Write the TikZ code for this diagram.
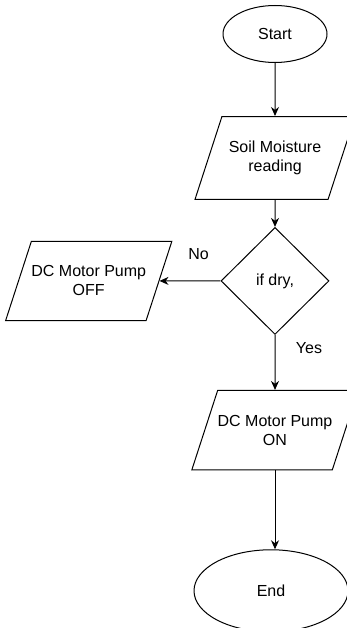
\documentclass[tikz,border=0pt]{standalone}
\usepackage{fontspec}
\setmainfont{Liberation Sans}
\usepackage{tikz}
\usetikzlibrary{shapes.geometric,arrows.meta,positioning}

\begin{document}
\begin{tikzpicture}[x=1pt, y=1pt, >={Stealth[length=9pt,width=8pt]}, line width=1pt,
  every node/.style={align=center, font=\fontsize{16}{19}\selectfont},
  term/.style={draw, ellipse, inner sep=0pt},
  iobox/.style={draw, trapezium, trapezium left angle=72, trapezium right angle=108, trapezium stretches body=true, minimum width=160pt, inner xsep=0pt, inner ysep=24.5pt},
  decide/.style={draw, diamond, minimum width=108pt, minimum height=107pt, inner sep=0pt}]
\useasboundingbox (0,0) rectangle (347,-628);
\node[term, minimum width=104pt, minimum height=57pt] (start) at (275,-34) {Start};
\node[iobox, below=53pt of start] (soil) {Soil Moisture\\reading};
\node[decide, below=27pt of soil] (dry) {if dry,};
\node[iobox, left=61pt of dry] (off) {DC Motor Pump\\OFF};
\node[iobox, below=55pt of dry] (on) {DC Motor Pump\\ON};
\node[term, minimum width=154pt, minimum height=82pt, below=79pt of on, xshift=-4pt] (end) {End};
\node (no) at ([xshift=-22pt, yshift=27pt]dry.west) {No};
\node (yes) at ([xshift=34pt, yshift=-13pt]dry.south) {Yes};
\draw[->] (start) -- (soil);
\draw[->] (soil) -- (dry);
\draw[->] (dry) -- (off);
\draw[->] (dry) -- (on);
\draw[->] (on.south) -- (on.south |- end.north);
\end{tikzpicture}
\end{document}
